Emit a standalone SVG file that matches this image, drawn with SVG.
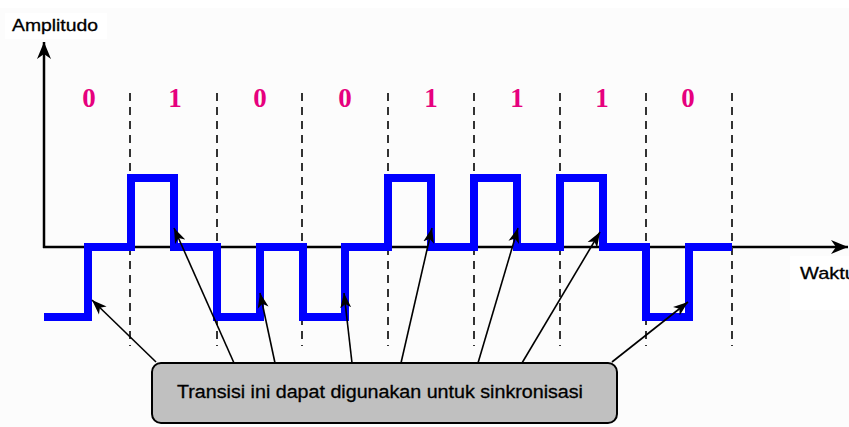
<svg xmlns="http://www.w3.org/2000/svg" width="849" height="427" viewBox="0 0 849 427">
<defs>
<style>
.bg{fill:#fcfcfc}
.axis{stroke:#000;stroke-width:2.5;fill:none}
.grid{stroke:#333;stroke-width:2;stroke-dasharray:8,6;fill:none}
.bit{font-family:"Liberation Serif","Times New Roman",serif;font-weight:bold;font-size:27px;fill:#e6007e;text-anchor:middle}
.lbl{font-family:"Liberation Sans",Arial,sans-serif;font-size:17px;fill:#000;stroke:#000;stroke-width:0.3}
.wave{stroke:#0000ff;stroke-width:8;fill:none;stroke-linejoin:miter;stroke-linecap:butt}
.conn{stroke:#000;stroke-width:1.6;fill:none}
.box{fill:#c0c0c0;stroke:#000;stroke-width:2}
.boxtxt{font-family:"Liberation Sans",Arial,sans-serif;font-size:18px;fill:#000;stroke:#000;stroke-width:0.3;text-anchor:middle}
</style>
<marker id="ah" markerUnits="userSpaceOnUse" markerWidth="16" markerHeight="12" refX="15" refY="6" orient="auto">
<path d="M0,0.5 L15,6 L0,11.5 L4,6 Z" fill="#000"/>
</marker>
<marker id="axh" markerUnits="userSpaceOnUse" markerWidth="18" markerHeight="14" refX="17" refY="7" orient="auto">
<path d="M0,0 L17,7 L0,14 L5,7 Z" fill="#000"/>
</marker>
</defs>
<rect class="bg" x="0" y="0" width="849" height="427"/>
<rect x="0" y="0" width="849" height="8" fill="#fff"/>
<rect x="5" y="13" width="102" height="26" fill="#fff"/>
<rect x="790" y="256" width="59" height="54" fill="#fff"/>

<g id="axes">
<line class="axis" x1="44" y1="248" x2="44" y2="42" marker-end="url(#axh)"/>
<line class="axis" x1="43" y1="247" x2="848" y2="247" marker-end="url(#axh)"/>
<text id="label-amplitudo" class="lbl" x="12" y="31" textLength="86" lengthAdjust="spacingAndGlyphs">Amplitudo</text>
<text id="label-waktu" class="lbl" x="800" y="279" textLength="56" lengthAdjust="spacingAndGlyphs">Waktu</text>
</g>

<g id="gridlines">
<line class="grid" x1="130" y1="93" x2="130" y2="346"/>
<line class="grid" x1="217" y1="93" x2="217" y2="346"/>
<line class="grid" x1="302" y1="93" x2="302" y2="346"/>
<line class="grid" x1="388" y1="93" x2="388" y2="346"/>
<line class="grid" x1="474" y1="93" x2="474" y2="346"/>
<line class="grid" x1="560" y1="93" x2="560" y2="346"/>
<line class="grid" x1="646" y1="93" x2="646" y2="346"/>
<line class="grid" x1="732" y1="93" x2="732" y2="346"/>
</g>

<g id="bits">
<text class="bit" x="89" y="107">0</text>
<text class="bit" x="175" y="107">1</text>
<text class="bit" x="260" y="107">0</text>
<text class="bit" x="345" y="107">0</text>
<text class="bit" x="431" y="107">1</text>
<text class="bit" x="517" y="107">1</text>
<text class="bit" x="602" y="107">1</text>
<text class="bit" x="688" y="107">0</text>
</g>

<g id="signal">
<polyline class="wave" points="44,317 88,317 88,247 131,247 131,178 174,178 174,247 217,247 217,317 260,317 260,247 303,247 303,317 345,317 345,247 388,247 388,178 431,178 431,247 474,247 474,178 517,178 517,247 560,247 560,178 603,178 603,247 646,247 646,317 689,317 689,247 732,247"/>
</g>

<g id="connectors">
<line class="conn" x1="156" y1="362" x2="92" y2="300" marker-end="url(#ah)"/>
<line class="conn" x1="234" y1="363" x2="174" y2="228" marker-end="url(#ah)"/>
<line class="conn" x1="275" y1="363" x2="260" y2="293" marker-end="url(#ah)"/>
<line class="conn" x1="352" y1="363" x2="344" y2="293" marker-end="url(#ah)"/>
<line class="conn" x1="401" y1="363" x2="432" y2="228" marker-end="url(#ah)"/>
<line class="conn" x1="478" y1="363" x2="518" y2="228" marker-end="url(#ah)"/>
<line class="conn" x1="522" y1="363" x2="600" y2="232" marker-end="url(#ah)"/>
<line class="conn" x1="612" y1="362" x2="688" y2="302" marker-end="url(#ah)"/>
</g>

<g id="note">
<rect class="box" x="152" y="363" width="465" height="60" rx="9" ry="9"/>
<text class="boxtxt" x="380" y="398" textLength="406" lengthAdjust="spacingAndGlyphs">Transisi ini dapat digunakan untuk sinkronisasi</text>
</g>
</svg>
